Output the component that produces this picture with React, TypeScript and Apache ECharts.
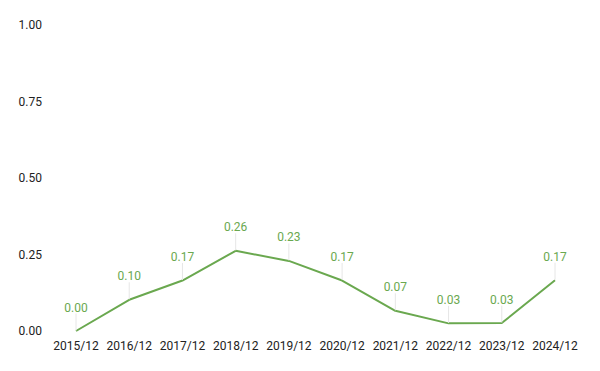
import React, { useEffect, useRef } from "react";
import * as echarts from "echarts";

const categories = ["2015/12", "2016/12", "2017/12", "2018/12", "2019/12", "2020/12", "2021/12", "2022/12", "2023/12", "2024/12"];
const values = [0.0, 0.102, 0.165, 0.262, 0.229, 0.165, 0.066, 0.025, 0.026, 0.166];
const yTicks = [0, 0.25, 0.5, 0.75, 1.0];

export default function App() {
  const ref = useRef<HTMLDivElement>(null);
  useEffect(() => {
    const chart = echarts.init(ref.current!, undefined, { renderer: "svg" });
    chart.setOption({
      animation: false,
      grid: { left: 76, right: 45, top: 25, bottom: 40 },
      xAxis: {
        type: "category",
        data: categories,
        boundaryGap: false,
        axisLine: { show: false },
        axisTick: { show: false },
        axisLabel: { color: "#222", fontSize: 12, fontFamily: "Roboto", margin: 9, interval: 0 },
      },
      yAxis: {
        type: "value",
        min: 0,
        max: yTicks[yTicks.length - 1],
        interval: 0.25,
        splitLine: { show: false },
        axisLine: { show: false },
        axisTick: { show: false },
        axisLabel: {
          color: "#222",
          fontSize: 12,
          fontFamily: "Roboto",
          margin: 34,
          formatter: (v: number) => v.toFixed(2),
        },
      },
      series: [
        {
          type: "line",
          data: values,
          symbol: "circle",
          symbolSize: 1,
          showSymbol: true,
          lineStyle: { color: "#6aa84f", width: 2 },
          itemStyle: { color: "transparent", borderWidth: 0 },
          label: {
            show: true,
            position: "top",
            distance: 5,
            color: "#6aa84f",
            fontSize: 12,
            fontFamily: "Roboto",
            formatter: (p: any) => Number(p.value).toFixed(2),
          },
          labelLayout: { dy: -12 },
          labelLine: { show: true, lineStyle: { color: "#e6e6e6", width: 1 } },
        },
      ],
    });
    return () => chart.dispose();
  }, []);
  return <div ref={ref} style={{ width: 600, height: 371, margin: -8 }} />;
}
